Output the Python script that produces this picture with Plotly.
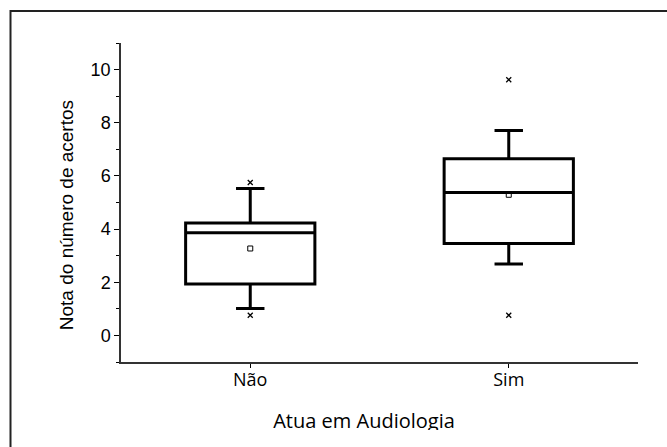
import plotly.graph_objects as go

# ---- data ----
categories = ["Não", "Sim"]
cat_pos = [0, 1]
q1 = [1.93, 3.46]
median = [3.86, 5.38]
q3 = [4.23, 6.65]
lower_whisker = [1.01, 2.69]
upper_whisker = [5.53, 7.71]
means = [3.27, 5.29]
minimum = [0.76, 0.76]
maximum = [5.75, 9.62]
y_ticks = [0, 2, 4, 6, 8, 10]
x_title = "Atua em Audiologia"
y_title = "Nota do número de acertos"

W, H = 667, 447
B = 17
PH = H - B  # paper height in px

fig = go.Figure()

fig.add_trace(go.Box(
    x=cat_pos, q1=q1, median=median, q3=q3,
    lowerfence=lower_whisker, upperfence=upper_whisker,
    width=0.5, whiskerwidth=0.22,
    line=dict(color="black", width=3),
    fillcolor="rgba(255,255,255,0)",
    boxpoints=False, hoverinfo="skip", showlegend=False,
))

fig.add_trace(go.Scatter(
    x=cat_pos, y=means, mode="markers",
    marker=dict(symbol="square-open", size=5, color="black", line=dict(width=1)),
    showlegend=False, hoverinfo="skip",
))

fig.add_trace(go.Scatter(
    x=cat_pos + cat_pos, y=minimum + maximum, mode="markers",
    marker=dict(symbol="x-thin", size=5, color="black", line=dict(width=1.3, color="black")),
    showlegend=False, hoverinfo="skip",
))

# x-axis title as clipped text on an overlay subplot in px units
fig.add_trace(go.Scatter(
    x=[364], y=[7], mode="text", text=[x_title],
    textposition="middle center",
    textfont=dict(family="Open Sans", size=20, color="black"),
    xaxis="x2", yaxis="y2", cliponaxis=True,
    showlegend=False, hoverinfo="skip",
))

fig.update_layout(
    width=W, height=H,
    margin=dict(l=0, r=0, t=0, b=B, pad=0),
    paper_bgcolor="white", plot_bgcolor="rgba(0,0,0,0)",
    xaxis=dict(
        domain=[121 / W, 638 / W], range=[-0.5, 1.5],
        tickvals=cat_pos, ticktext=categories,
        ticks="outside", ticklen=4, tickwidth=1, tickcolor="black",
        ticklabelstandoff=-3,
        showline=True, linecolor="#333", linewidth=1.5,
        showgrid=False, zeroline=False,
        tickfont=dict(family="Open Sans", size=18, color="black"),
        anchor="y",
    ),
    yaxis=dict(
        domain=[(PH - 362) / PH, (PH - 43) / PH], range=[-1, 11],
        tickvals=y_ticks,
        ticks="outside", ticklen=5, tickwidth=1, tickcolor="black",
        minor=dict(dtick=1, ticks="outside", ticklen=3, tickcolor="black", showgrid=False),
        showline=True, linecolor="#333", linewidth=1.5,
        showgrid=False, zeroline=False,
        tickfont=dict(family="Liberation Sans, Arial", size=18, color="black"),
        anchor="x",
    ),
    xaxis2=dict(domain=[0, 1], range=[0, W], visible=False, anchor="y2"),
    yaxis2=dict(domain=[0, 1], range=[0, PH], visible=False, anchor="x2"),
    annotations=[dict(
        text=y_title, textangle=-90, xref="paper", yref="paper",
        x=66.7 / W, y=(PH - 215.5) / PH, xanchor="center", yanchor="middle",
        showarrow=False,
        font=dict(family="Liberation Sans, Arial", size=19, color="black"),
    )],
    shapes=[dict(
        type="rect", xref="paper", yref="paper",
        x0=10.5 / W, x1=1.1, y0=-0.2, y1=(PH - 11) / PH,
        line=dict(color="#222", width=2), fillcolor="rgba(0,0,0,0)", layer="above",
    )],
)

fig.write_html("out.html", config={"displayModeBar": False},
               post_script="document.body.style.margin='0';")
